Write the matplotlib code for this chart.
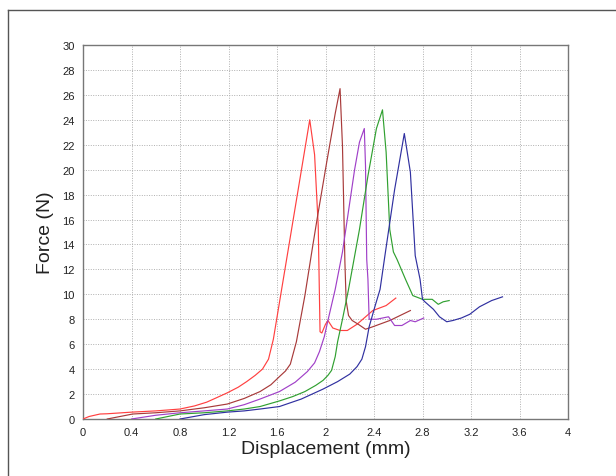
import matplotlib
matplotlib.use("Agg")
import matplotlib.pyplot as plt
from matplotlib.lines import Line2D

plt.rcParams['font.family'] = ['Liberation Sans', 'DejaVu Sans']

# Data (displacement mm, force N)
red_x = [0, 0.05, 0.14, 0.2, 0.4, 0.6, 0.8, 0.92, 1.02, 1.1, 1.19, 1.28, 1.35, 1.42, 1.48, 1.53, 1.57, 1.72, 1.87, 1.91, 1.94, 1.955, 1.97, 2.0, 2.02, 2.06, 2.12, 2.18, 2.26, 2.39, 2.5, 2.58]
red_y = [0, 0.2, 0.4, 0.42, 0.55, 0.65, 0.8, 1.05, 1.35, 1.7, 2.1, 2.55, 3.0, 3.5, 4.0, 4.8, 6.4, 15.2, 24.0, 21.2, 15.5, 7.0, 6.9, 7.6, 7.9, 7.3, 7.1, 7.1, 7.6, 8.7, 9.1, 9.7]

brown_x = [0.2, 0.41, 0.6, 0.8, 1.0, 1.19, 1.33, 1.46, 1.55, 1.62, 1.67, 1.71, 1.76, 1.83, 1.89, 1.93, 2.01, 2.08, 2.12, 2.14, 2.16, 2.17, 2.19, 2.22, 2.27, 2.33, 2.39, 2.53, 2.7]
brown_y = [0, 0.4, 0.5, 0.65, 0.9, 1.2, 1.65, 2.2, 2.75, 3.4, 3.85, 4.4, 6.2, 9.9, 13.6, 16.0, 20.6, 24.5, 26.5, 21.9, 12.6, 9.5, 8.3, 7.9, 7.6, 7.2, 7.4, 7.9, 8.7]

purple_x = [0.4, 0.6, 0.8, 1.0, 1.19, 1.33, 1.46, 1.62, 1.75, 1.85, 1.91, 1.95, 1.99, 2.02, 2.08, 2.14, 2.24, 2.28, 2.32, 2.33, 2.34, 2.35, 2.36, 2.42, 2.52, 2.57, 2.63, 2.7, 2.74, 2.81]
purple_y = [0, 0.3, 0.5, 0.65, 0.8, 1.15, 1.6, 2.2, 2.95, 3.8, 4.5, 5.4, 6.6, 7.9, 10.4, 13.4, 20.0, 22.2, 23.3, 20.3, 12.8, 11.2, 8.0, 8.0, 8.2, 7.5, 7.5, 7.9, 7.8, 8.1]

green_x = [0.6, 0.8, 1.0, 1.19, 1.33, 1.46, 1.62, 1.73, 1.83, 1.92, 1.98, 2.02, 2.05, 2.08, 2.1, 2.14, 2.19, 2.28, 2.35, 2.42, 2.47, 2.5, 2.53, 2.56, 2.59, 2.66, 2.72, 2.8, 2.88, 2.93, 2.97, 3.02]
green_y = [0, 0.4, 0.5, 0.65, 0.8, 1.0, 1.45, 1.8, 2.2, 2.7, 3.1, 3.5, 3.9, 5.0, 6.2, 8.0, 10.4, 15.2, 19.5, 23.3, 24.8, 21.4, 15.2, 13.4, 12.8, 11.2, 9.9, 9.6, 9.6, 9.2, 9.4, 9.5]

blue_x = [0.8, 1.0, 1.19, 1.33, 1.46, 1.62, 1.8, 1.98, 2.1, 2.2, 2.26, 2.3, 2.33, 2.36, 2.41, 2.45, 2.49, 2.57, 2.65, 2.7, 2.74, 2.78, 2.8, 2.82, 2.89, 2.94, 3.0, 3.05, 3.12, 3.19, 3.27, 3.37, 3.46]
blue_y = [0, 0.35, 0.55, 0.65, 0.8, 1.0, 1.6, 2.4, 3.0, 3.6, 4.2, 4.8, 5.8, 7.4, 9.1, 10.4, 13.1, 18.4, 22.9, 19.8, 13.1, 11.2, 9.6, 9.4, 8.8, 8.2, 7.8, 7.9, 8.1, 8.4, 9.0, 9.5, 9.8]

x_ticks = [0, 0.4, 0.8, 1.2, 1.6, 2, 2.4, 2.8, 3.2, 3.6, 4]
x_labels = ["0", "0.4", "0.8", "1.2", "1.6", "2", "2.4", "2.8", "3.2", "3.6", "4"]
y_ticks = list(range(0, 31, 2))

fig = plt.figure(figsize=(6.16, 4.77), dpi=100)
ax = fig.add_axes([83/616, 1 - 420/477, (568-83)/616, (420-46)/477])

series = [
    (red_x, red_y, "#ff4040"),
    (brown_x, brown_y, "#a83a3a"),
    (purple_x, purple_y, "#a040c8"),
    (green_x, green_y, "#30a030"),
    (blue_x, blue_y, "#3030a0"),
]
for xs, ys, c in series:
    ax.plot(xs, ys, color=c, lw=0.85, zorder=3)

ax.set_xlim(0, 4)
ax.set_ylim(0, 30)
ax.set_xticks(x_ticks)
ax.set_xticklabels(x_labels)
ax.set_yticks(y_ticks)
ax.tick_params(length=0, labelsize=8, pad=6, colors="#222222")
ax.grid(True, color="#b0b0b0", linestyle=(0, (1, 1.5)), linewidth=0.7, zorder=0)
for s in ax.spines.values():
    s.set_color("#777777")
    s.set_linewidth(1.0)

ax.set_xlabel("Displacement (mm)", fontsize=14, color="#222222", labelpad=2)
ax.set_ylabel("Force (N)", fontsize=14, color="#222222", labelpad=6)

# outer frame
fig.add_artist(Line2D([8/616, 8/616], [0, 1 - 11/477], transform=fig.transFigure, color="#555555", lw=1.0))
fig.add_artist(Line2D([8/616, 1], [1 - 11/477, 1 - 11/477], transform=fig.transFigure, color="#555555", lw=1.0))

fig.savefig("out.png", dpi=100)
